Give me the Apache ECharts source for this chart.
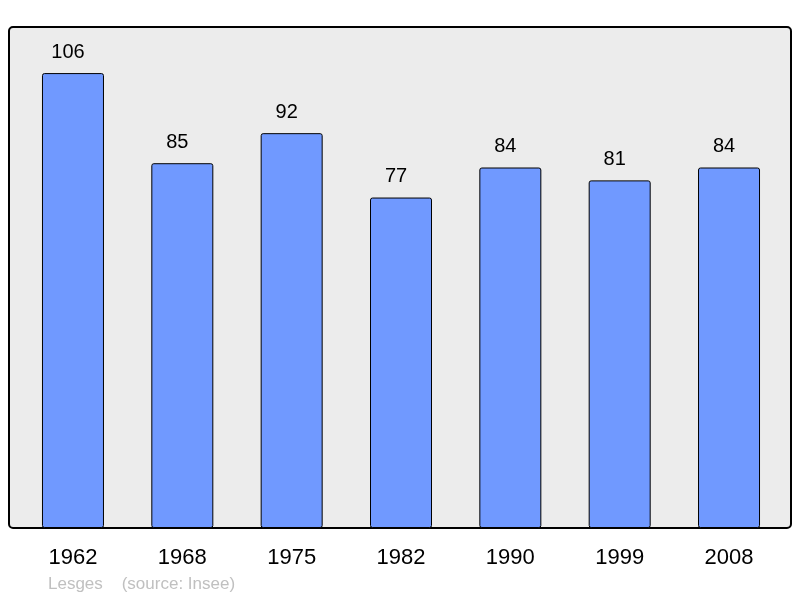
<!DOCTYPE html>
<html>
<head>
<meta charset="UTF-8">
<title>Lesges</title>
<script src="https://cdn.jsdelivr.net/npm/echarts@6/dist/echarts.min.js"></script>
<style>
  html, body { margin: 0; padding: 0; background: #fff; }
  #main { width: 800px; height: 598px; }
</style>
</head>
<body>
<div id="main"></div>
<script>
// données
var years = ['1962', '1968', '1975', '1982', '1990', '1999', '2008'];
var population = [106, 85, 92, 77, 84, 81, 84];

var chart = echarts.init(document.getElementById('main'));

chart.setOption({
  animation: false,
  textStyle: { fontFamily: 'Liberation Sans, Arial, sans-serif' },
  graphic: [
    {
      type: 'rect',
      z: -10,
      shape: { x: 9, y: 27, width: 782, height: 501, r: 4 },
      style: { fill: '#ececec', stroke: '#000', lineWidth: 2 }
    },
    {
      type: 'text',
      left: 48,
      top: 576,
      style: {
        text: 'Lesges    (source: Insee)',
        fill: '#c0c0c0',
        font: '17px "Liberation Sans", Arial, sans-serif'
      }
    }
  ],
  grid: { left: 18.3, right: 16.3, top: 13, bottom: 70 },
  xAxis: {
    type: 'category',
    data: years,
    axisLine: { show: false },
    axisTick: { show: false },
    axisLabel: { color: '#000', fontSize: 22, margin: 19 }
  },
  yAxis: {
    type: 'value',
    min: 0,
    max: 120,
    show: false
  },
  series: [{
    type: 'bar',
    data: population,
    barWidth: 62,
    itemStyle: {
      color: '#7099ff',
      borderColor: '#000',
      borderWidth: 1,
      borderRadius: 2
    },
    label: {
      show: true,
      position: 'top',
      distance: 11,
      offset: [-5, 0],
      color: '#000',
      fontSize: 20
    }
  }]
});
</script>
</body>
</html>
